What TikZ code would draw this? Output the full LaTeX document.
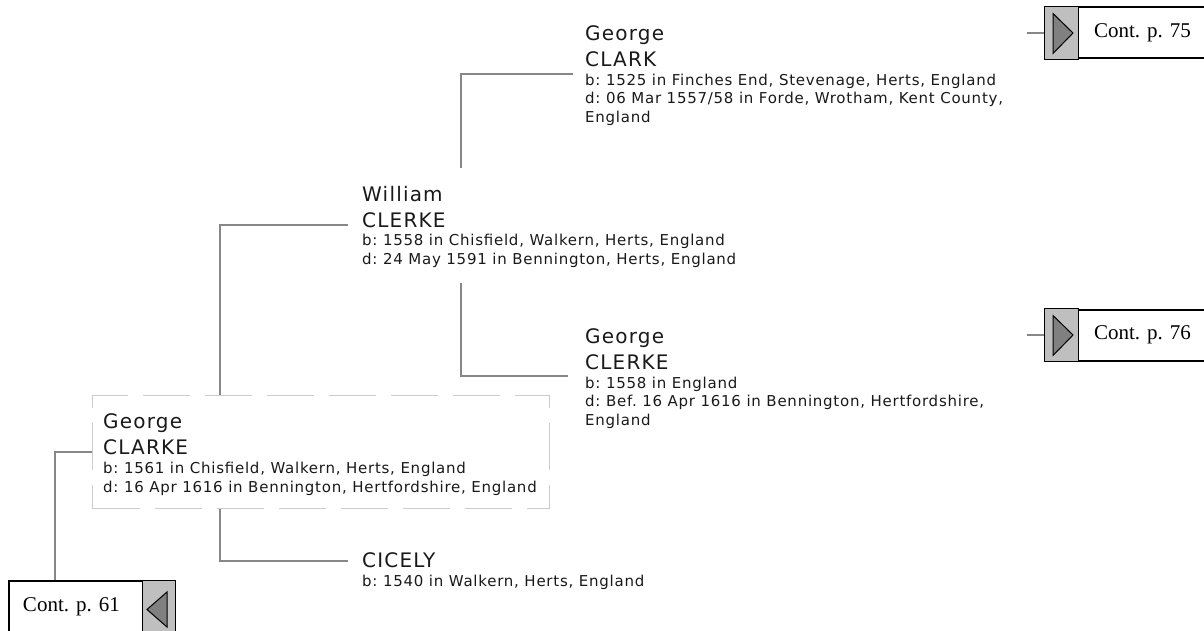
\documentclass[tikz,border=0pt]{standalone}
\usepackage{fontspec}
\newfontfamily\namefont[LetterSpace=6]{DejaVu Sans}
\newfontfamily\infofont[LetterSpace=5]{DejaVu Sans}
\newfontfamily\contfont{Liberation Serif}
\usetikzlibrary{positioning,calc}

\begin{document}
\frenchspacing
\begin{tikzpicture}[x=1pt,y=-1pt,
    nameline/.style={anchor=base west, inner sep=0pt, text=black!90, font=\namefont\fontsize{20}{20}\selectfont},
    infoline/.style={anchor=base west, inner sep=0pt, text=black!90, font=\infofont\fontsize{15}{15}\selectfont},
    link/.style={draw=black!47, line width=2pt},
    homebox/.style={draw=black!20, line width=1pt, dash pattern=on 47pt off 15pt, anchor=north west, inner sep=0pt},
    contbox/.style={draw=black, line width=2pt, fill=white, minimum height=51pt, inner ysep=0pt, align=left, font=\contfont\fontsize{21}{21}\selectfont},
    tab/.style={draw=black, line width=1pt, fill=black!25},
    tabarrow/.style={draw=black, line width=1pt, fill=black!50}]
    \clip (0,0) rectangle (1204,631);
    % kader rond de hoofdpersoon
    \node[homebox, minimum width=457pt, minimum height=113pt] (home) at (92,395) {};
    % personen
    \node[nameline] (home-g) at (103,428) {George};
    \node[nameline] (home-s) at (103,454) {CLARKE};
    \node[infoline] (home-b) at (103,473) {b: 1561 in Chisfield, Walkern, Herts, England};
    \node[infoline] (home-d) at (103,492) {d: 16 Apr 1616 in Bennington, Hertfordshire, England};

    \node[nameline] (william-g) at (362,202) {William};
    \node[nameline] (william-s) at (362,227) {CLERKE};
    \node[infoline] (william-b) at (362,245) {b: 1558 in Chisfield, Walkern, Herts, England};
    \node[infoline] (william-d) at (362,264) {d: 24 May 1591 in Bennington, Herts, England};

    \node[nameline] (gclark-g) at (585,41) {George};
    \node[nameline] (gclark-s) at (585,67) {CLARK};
    \node[infoline] (gclark-b) at (585,86) {b: 1525 in Finches End, Stevenage, Herts, England};
    \node[infoline] (gclark-d) at (585,104) {d: 06 Mar 1557/58 in Forde, Wrotham, Kent County,};
    \node[infoline] (gclark-e) at (585,123) {England};

    \node[nameline] (gclerke-g) at (585,343) {George};
    \node[nameline] (gclerke-s) at (585,369) {CLERKE};
    \node[infoline] (gclerke-b) at (585,388) {b: 1558 in England};
    \node[infoline] (gclerke-d) at (585,406) {d: Bef. 16 Apr 1616 in Bennington, Hertfordshire,};
    \node[infoline] (gclerke-e) at (585,425) {England};

    \node[nameline] (cicely-s) at (362,567) {CICELY};
    \node[infoline] (cicely-b) at (362,586) {b: 1540 in Walkern, Herts, England};

    % verwijzingen naar andere pagina's
    \node[contbox, anchor=west, inner xsep=49pt, text width=130pt] (c75) at (1044,33) {Cont. p. 75};
    \node[contbox, anchor=west, inner xsep=49pt, text width=130pt] (c76) at (1044,335) {Cont. p. 76};
    \node[contbox, anchor=north west, inner xsep=14pt, text width=137pt] (c61) at (8,580) {Cont. p. 61};
    \foreach \c in {c75,c76} {
        \draw[tab] (\c.north west) rectangle ($(\c.south west)+(34,0)$);
        \draw[tabarrow] ($(\c.north west)+(9,7)$) -- ($(\c.west)+(29,0)$) -- ($(\c.south west)+(9,-6)$) -- cycle;
        \draw[link] (\c.west) -- ++(-17,0);
    }
    \draw[tab] (c61.north east) rectangle ($(c61.south east)+(-33,0)$);
    \draw[tabarrow] ($(c61.north east)+(-8,12)$) -- ($(c61.east)+(-28,3)$) -- ($(c61.south east)+(-8,-6)$) -- cycle;

    % verbindingslijnen
    \coordinate (gcol) at (220,0);
    \coordinate (wjoin) at (348,225);
    \coordinate (cjoin) at (348,561);
    \coordinate (wup) at (461,168);
    \coordinate (wdown) at (461,283);
    \coordinate (fjoin) at (573,74);
    \coordinate (mjoin) at (568,376);
    \draw[link] (home.north -| gcol) |- (wjoin);
    \draw[link] (home.south -| gcol) |- (cjoin);
    \draw[link] (wup) |- (fjoin);
    \draw[link] (wdown) |- (mjoin);
    \draw[link] (home.west) -| ($(c61.north west)+(47,0)$);
\end{tikzpicture}
\end{document}
